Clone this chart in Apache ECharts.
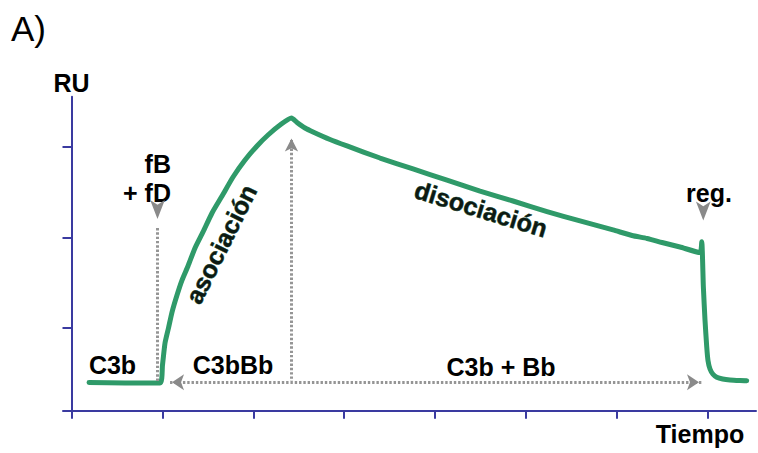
<!DOCTYPE html>
<html>
<head>
<meta charset="utf-8">
<script src="https://cdn.jsdelivr.net/npm/echarts@6/dist/echarts.min.js"></script>
<style>
  html, body { margin: 0; padding: 0; background: #fff; }
  #chart { width: 758px; height: 453px; }
</style>
</head>
<body>
<div id="chart"></div>
<script>
// Sensorgram: C3b surface, fB + fD injection, association, dissociation, regeneration
const tiempo = [
  0.193, 0.589, 0.974, 1.001, 1.029, 1.067, 1.106, 1.161, 1.216, 1.282, 1.359,
  1.447, 1.546, 1.656, 1.777, 1.909, 2.041, 2.162, 2.294, 2.420,
  2.481, 2.569, 2.657, 2.844, 3.031, 3.394, 3.757, 4.131, 4.494, 4.857, 5.231,
  5.594, 5.957, 6.166, 6.331, 6.496, 6.694, 6.914,
  6.933, 6.951, 6.969, 6.988, 7.002, 7.024, 7.057, 7.098, 7.163, 7.244, 7.354, 7.428
];
const ru = [
  0.399, 0.394, 0.394, 0.592, 0.835, 1.000, 1.176, 1.364, 1.529, 1.684, 1.882,
  2.059, 2.268, 2.455, 2.665, 2.852, 3.007, 3.128, 3.238, 3.315,
  3.266, 3.205, 3.161, 3.078, 3.007, 2.874, 2.753, 2.631, 2.510, 2.400, 2.284,
  2.180, 2.081, 2.020, 1.987, 1.943, 1.893, 1.832,
  1.952, 1.452, 1.088, 0.791, 0.640, 0.548, 0.490, 0.458, 0.438, 0.427, 0.421, 0.419
];

// Axis ticks (no numeric labels on either axis)
const xTicks = [0, 1, 2, 3, 4, 5, 6, 7];
const yTicks = [1, 2, 3];

// Dotted guide segments: [x1, y1, x2, y2]
const guides = [
  [0.946, 2.102, 0.946, 0.416],   // fB + fD injection
  [2.420, 3.073, 2.420, 0.416],   // end of association
  [1.084, 0.401, 6.936, 0.401]    // C3bBb / C3b + Bb span
];
// Arrow heads: [x, y, rotation in degrees]
const arrowHeads = [
  [0.946, 2.202, 180],
  [6.950, 2.185, 180],
  [2.420, 3.089, 0],
  [1.106, 0.401, 90],
  [6.903, 0.401, -90]
];

const AXIS = '#3a3aa0';
const GREEN = '#2f9a69';
const GREY = '#959595';
const FONT = '"Liberation Sans", Arial, sans-serif';

const chart = echarts.init(document.getElementById('chart'), null, { renderer: 'svg' });

const bold = (size) => 'bold ' + size + 'px ' + FONT;
const label = (text, x, y, opts) => Object.assign({
  type: 'text', x: x, y: y, silent: true,
  style: Object.assign({
    text: text, font: bold(25), fill: '#000',
    align: 'center', verticalAlign: 'middle'
  }, (opts && opts.style) || {})
}, opts && opts.rotation !== undefined ? { rotation: opts.rotation } : {});

chart.setOption({
  animation: false,
  backgroundColor: '#ffffff',
  grid: { left: 63, right: 2, top: 96.7, bottom: 42.3 },
  xAxis: {
    type: 'value', min: -0.0935, max: 7.53,
    axisLine: { onZero: false, lineStyle: { color: AXIS, width: 2 } },
    axisTick: { show: true, customValues: xTicks, length: 8, inside: false,
                lineStyle: { color: AXIS, width: 2 } },
    axisLabel: { show: false },
    splitLine: { show: false }
  },
  yAxis: {
    type: 'value', min: 0.0882, max: 3.55,
    axisLine: { show: true, onZero: true, lineStyle: { color: AXIS, width: 2 } },
    axisTick: { show: true, customValues: yTicks, length: 9, inside: false,
                lineStyle: { color: AXIS, width: 2 } },
    axisLabel: { show: false },
    splitLine: { show: false }
  },
  series: [
    {
      type: 'line', data: [], z: 1, silent: true,
      markLine: {
        silent: true, symbol: ['none', 'none'], animation: false,
        label: { show: false },
        lineStyle: { color: GREY, width: 3, type: [2.4, 1.9], cap: 'butt' },
        data: guides.map(g => [{ coord: [g[0], g[1]] }, { coord: [g[2], g[3]] }])
      },
      markPoint: {
        silent: true, symbol: 'arrow', animation: false,
        label: { show: false },
        itemStyle: { color: '#8a8a8a' },
        data: arrowHeads.map((a, i) => ({
          coord: [a[0], a[1]], symbolRotate: a[2],
          symbolSize: i < 2 ? [11, 19] : (i === 2 ? [10, 13] : [12, 12])
        }))
      }
    },
    {
      type: 'line', z: 3, silent: true,
      data: tiempo.map((t, i) => [t, ru[i]]),
      showSymbol: false, smooth: 0.2,
      lineStyle: { color: GREEN, width: 5, join: 'round', cap: 'round' }
    }
  ],
  graphic: [
    { type: 'text', left: 11, top: 11, silent: true,
      style: { text: 'A)', font: '35px ' + FONT, fill: '#000' } },
    label('RU', 71.5, 83),
    label('Tiempo', 700, 434),
    label('C3b', 112.5, 365),
    label('C3bBb', 233, 365),
    label('C3b + Bb', 501, 366.5),
    label('fB', 171, 164, { style: { align: 'right' } }),
    label('+ fD', 171, 193, { style: { align: 'right' } }),
    label('reg.', 709, 193),
    label('asociación', 221, 244, { rotation: 63.5 * Math.PI / 180,
      style: { fill: '#0d1a13', stroke: '#245f40', lineWidth: 0.6 } }),
    label('disociación', 481, 209, { rotation: -17 * Math.PI / 180,
      style: { fill: '#0d1a13', stroke: '#245f40', lineWidth: 0.6 } })
  ]
});
</script>
</body>
</html>
